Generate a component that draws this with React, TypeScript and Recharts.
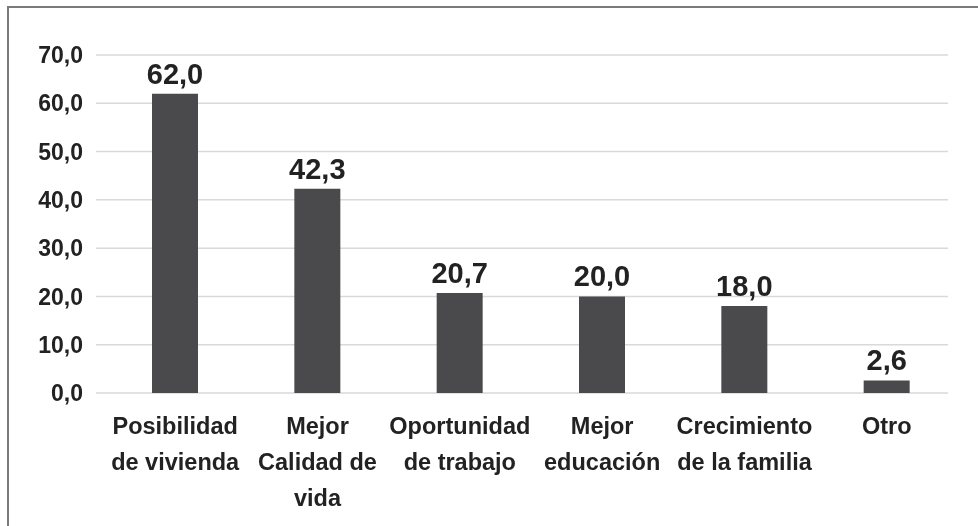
import { BarChart, Bar, XAxis, YAxis, CartesianGrid, LabelList } from "recharts"

const categories = [
  "Posibilidad\nde vivienda",
  "Mejor\nCalidad de\nvida",
  "Oportunidad\nde trabajo",
  "Mejor\neducación",
  "Crecimiento\nde la familia",
  "Otro",
]
const values = [62.0, 42.3, 20.7, 20.0, 18.0, 2.6]
const yTicks = [0, 10, 20, 30, 40, 50, 60, 70]

const data = categories.map((name, i) => ({ name, value: values[i] }))

const fmt = (v: number) => v.toFixed(1).replace(".", ",")
const FONT = "'Liberation Sans', Arial, sans-serif"

function CategoryTick({ x, y, payload }: any) {
  const lines = String(payload.value).split("\n")
  return (
    <text x={x} y={y} textAnchor="middle" fill="#222" fontFamily={FONT} fontWeight="bold" fontSize={23.5}>
      {lines.map((line, i) => (
        <tspan key={i} x={x} dy={i === 0 ? 40.5 : 36}>
          {line}
        </tspan>
      ))}
    </text>
  )
}

function ValueLabel({ x, y, width, value }: any) {
  return (
    <text
      x={x + width / 2}
      y={y - 10}
      textAnchor="middle"
      fill="#222"
      fontFamily={FONT}
      fontWeight="bold"
      fontSize={29}
    >
      {fmt(value)}
    </text>
  )
}

export default function App() {
  return (
    <div>
      <div
        style={{
          position: "fixed",
          left: 7,
          top: 6,
          width: 1000,
          height: 600,
          borderLeft: "2px solid #7a7a7a",
          borderTop: "2px solid #7a7a7a",
          boxSizing: "border-box",
        }}
      />
      <div style={{ position: "fixed", left: 0, top: 0 }}>
        <BarChart width={978} height={526} data={data} margin={{ top: 55, right: 30, bottom: 0, left: 0 }}>
          <CartesianGrid vertical={false} stroke="#d9d9d9" strokeWidth={1.5} />
          <XAxis
            dataKey="name"
            axisLine={false}
            tickLine={false}
            tickSize={0}
            tickMargin={0}
            height={133}
            interval={0}
            padding={{ left: 8, right: -10 }}
            tick={<CategoryTick />}
          />
          <YAxis
            domain={[0, 70]}
            ticks={yTicks}
            width={96}
            axisLine={false}
            tickLine={false}
            tickSize={0}
            tickMargin={13}
            tickFormatter={fmt}
            tick={{ fill: "#222", fontFamily: FONT, fontWeight: "bold", fontSize: 23 }}
          />
          <Bar dataKey="value" fill="#4a4a4c" barSize={46} isAnimationActive={false}>
            <LabelList dataKey="value" content={<ValueLabel />} />
          </Bar>
        </BarChart>
      </div>
    </div>
  )
}
